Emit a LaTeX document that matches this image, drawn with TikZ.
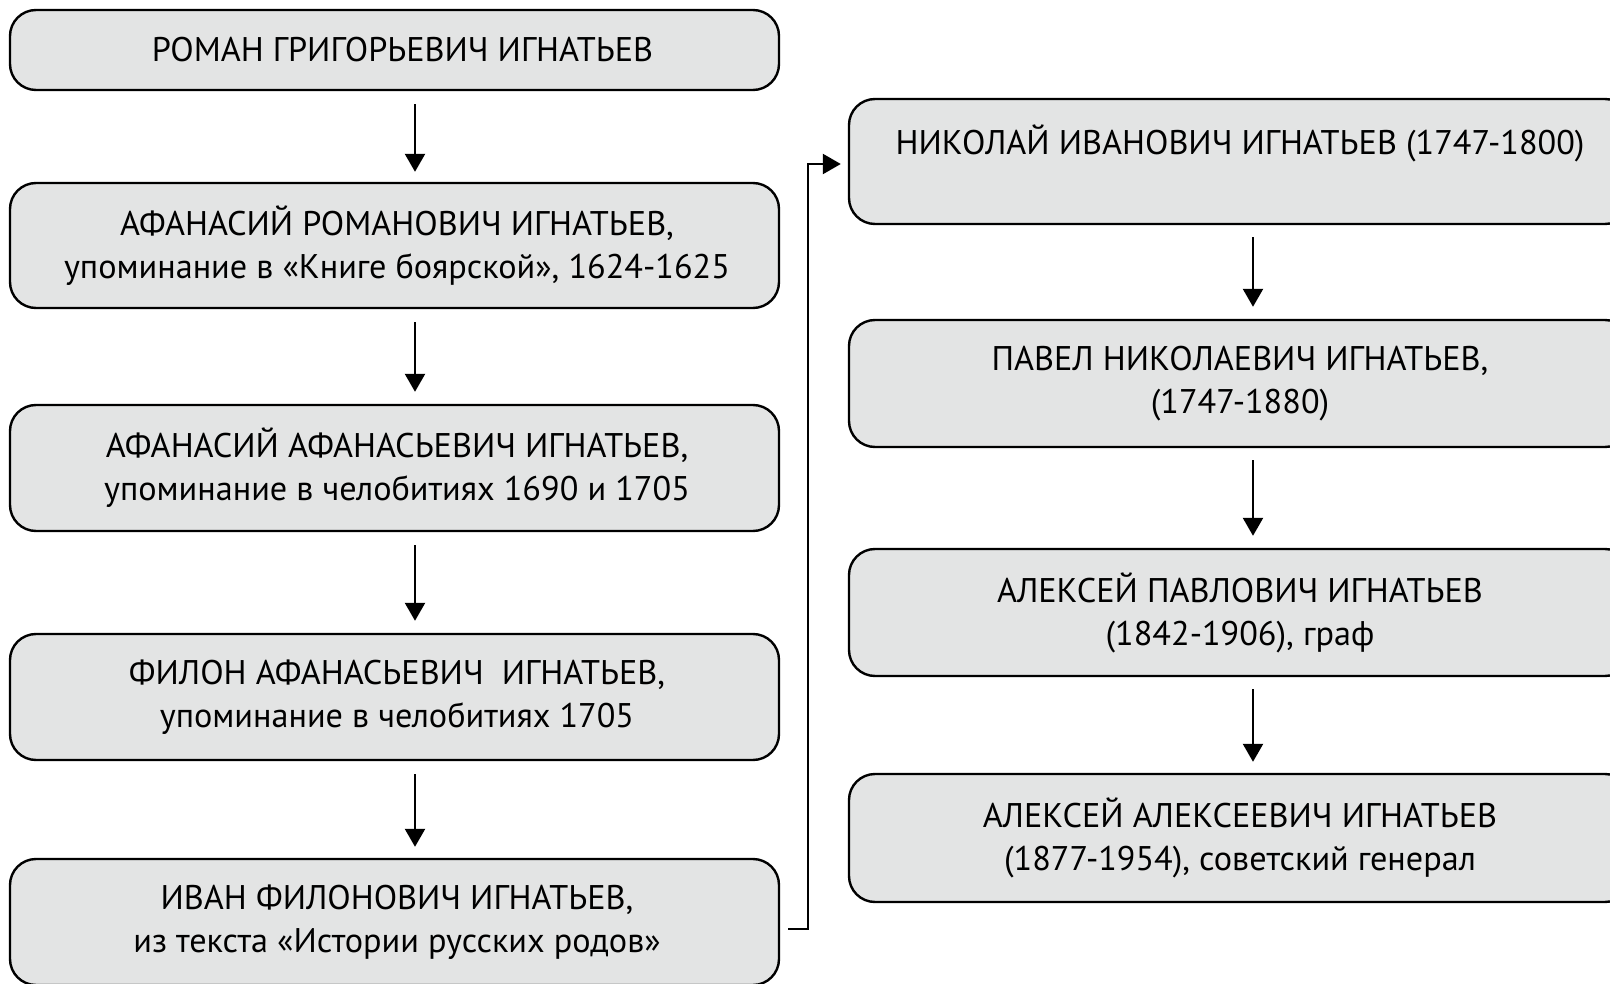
\documentclass[tikz,border=0pt]{standalone}
\usepackage{fontspec}
\setmainfont{PT Sans}
\usetikzlibrary{arrows.meta}
\definecolor{boxfill}{HTML}{E3E4E4}
\tikzset{
  gbox/.style={draw=black, line width=2.4pt, fill=boxfill, rounded corners=26pt,
    align=center, inner sep=0pt, font=\fontsize{34.2}{43}\selectfont},
  lbox/.style={gbox, minimum width=769pt},
  rbox/.style={gbox, minimum width=782pt},
  arr/.style={line width=2.4pt, -{Triangle[length=18pt,width=20pt]}},
}
\begin{document}
\begin{tikzpicture}[x=1pt,y=1pt]
\useasboundingbox (0,0) rectangle (1610,-984);
% left column
\node[lbox, minimum height=80pt] (a1) at (394.5,-50) {\hspace*{16pt}РОМАН ГРИГОРЬЕВИЧ ИГНАТЬЕВ};
\node[lbox, minimum height=125pt] (a2) at (394.5,-245.5) {\hspace*{5pt}АФАНАСИЙ РОМАНОВИЧ ИГНАТЬЕВ,\\\hspace*{5pt}упоминание в «Книге боярской», 1624-1625};
\node[lbox, minimum height=126pt] (a3) at (394.5,-468) {\hspace*{5pt}АФАНАСИЙ АФАНАСЬЕВИЧ ИГНАТЬЕВ,\\\hspace*{5pt}упоминание в челобитиях 1690 и 1705};
\node[lbox, minimum height=126pt] (a4) at (394.5,-697) {\hspace*{5pt}ФИЛОН АФАНАСЬЕВИЧ\ \ ИГНАТЬЕВ,\\\hspace*{5pt}упоминание в челобитиях 1705};
\node[lbox, minimum height=126pt] (a5) at (394.5,-922) {\hspace*{5pt}ИВАН ФИЛОНОВИЧ ИГНАТЬЕВ,\\\hspace*{5pt}из текста «Истории русских родов»};
% right column
\node[rbox, minimum height=125pt] (b1) at (1240,-161.5) {НИКОЛАЙ ИВАНОВИЧ ИГНАТЬЕВ (1747-1800)\\\mbox{}};
\node[rbox, minimum height=127pt] (b2) at (1240,-383.5) {ПАВЕЛ НИКОЛАЕВИЧ ИГНАТЬЕВ,\\(1747-1880)};
\node[rbox, minimum height=127pt] (b3) at (1240,-612.5) {АЛЕКСЕЙ ПАВЛОВИЧ ИГНАТЬЕВ\\(1842-1906), граф};
\node[rbox, minimum height=128pt] (b4) at (1240,-838) {АЛЕКСЕЙ АЛЕКСЕЕВИЧ ИГНАТЬЕВ\\(1877-1954), советский генерал};
% left arrows
\draw[arr] ([xshift=20.5pt,yshift=-13pt]a1.south) -- ([xshift=20.5pt,yshift=10pt]a2.north);
\draw[arr] ([xshift=20.5pt,yshift=-13pt]a2.south) -- ([xshift=20.5pt,yshift=12pt]a3.north);
\draw[arr] ([xshift=20.5pt,yshift=-13pt]a3.south) -- ([xshift=20.5pt,yshift=12pt]a4.north);
\draw[arr] ([xshift=20.5pt,yshift=-13pt]a4.south) -- ([xshift=20.5pt,yshift=11pt]a5.north);
% right arrows
\draw[arr] ([xshift=13pt,yshift=-12pt]b1.south) -- ([xshift=13pt,yshift=12pt]b2.north);
\draw[arr] ([xshift=13pt,yshift=-12pt]b2.south) -- ([xshift=13pt,yshift=12pt]b3.north);
\draw[arr] ([xshift=13pt,yshift=-12pt]b3.south) -- ([xshift=13pt,yshift=11pt]b4.north);
% connector
\coordinate (c1) at (808,-929);
\draw[line width=2.4pt, -{Triangle[length=18pt,width=20pt]}]
  ([xshift=8pt,yshift=-7pt]a5.east) -- (c1) |- ([xshift=-7pt,yshift=-2.5pt]b1.west);
\end{tikzpicture}
\end{document}
